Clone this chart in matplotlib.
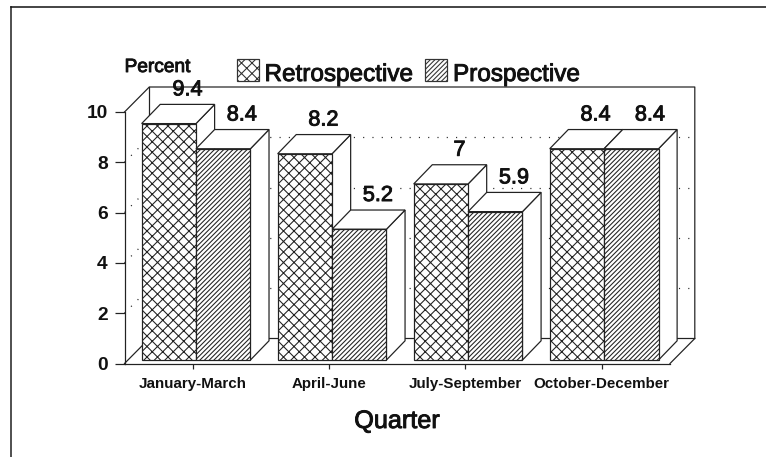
import matplotlib
matplotlib.use("Agg")
import matplotlib.pyplot as plt
from matplotlib.patches import Polygon, Rectangle
import matplotlib.patheffects as pe

categories = ["January-March", "April-June", "July-September", "October-December"]
retrospective = [9.4, 8.2, 7, 8.4]
prospective = [8.4, 5.2, 5.9, 8.4]
value_labels_r = ["9.4", "8.2", "7", "8.4"]
value_labels_p = ["8.4", "5.2", "5.9", "8.4"]
y_ticks = [0, 2, 4, 6, 8, 10]
series_names = ["Retrospective", "Prospective"]
x_title = "Quarter"
y_title = "Percent"

W, H, DPI = 766, 457, 126
S = 110 / DPI  # point sizes were tuned at 110 dpi
plt.rcParams["font.family"] = ["Liberation Sans", "DejaVu Sans"]
plt.rcParams["hatch.linewidth"] = 0.7 * S
plt.rcParams["hatch.color"] = "#111111"
cross_hatch = "xxxx"
diag_hatch = "/" * 9

fig = plt.figure(figsize=(W / DPI, H / DPI), dpi=DPI)
fig.patch.set_facecolor("white")

lc = "#222222"
lw = 0.8 * S
fig.add_artist(plt.Line2D([10.8 / W, 10.8 / W], [0, 1 - 6.5 / H], color="#333333", lw=1.1 * S))
fig.add_artist(plt.Line2D([10.8 / W, 1], [1 - 6.5 / H, 1 - 6.5 / H], color="#111111", lw=1.0 * S))

L, R, T, B = 124.5, 670.0, 112.0, 363.5
ax = fig.add_axes([L / W, 1 - B / H, (R - L) / W, (B - T) / H])
ax.set_xlim(0, 4)
ax.set_ylim(0, 10)
ax.patch.set_alpha(0)
for s in ["top", "right"]:
    ax.spines[s].set_visible(False)
for s in ["left", "bottom"]:
    ax.spines[s].set_linewidth(lw)
    ax.spines[s].set_color(lc)

ux = 4 / (R - L)
uy = 10 / (B - T)
wall_dx, wall_dy = 24.8 * ux, 25 * uy
bar_dx, bar_dy = 18.6 * ux, 19.2 * uy
base = 3.5 * uy
bw = 54.4 * ux
shift = 0.0244
step = 0.9975


def line(xs, ys):
    ax.plot(xs, ys, clip_on=False, color=lc, lw=lw, solid_capstyle="projecting", zorder=1)


line([0, wall_dx, 4 + wall_dx, 4 + wall_dx, 4], [10, 10 + wall_dy, 10 + wall_dy, wall_dy, 0])
line([wall_dx, wall_dx], [wall_dy, 10 + wall_dy])
line([0, wall_dx, 4 + wall_dx], [0, wall_dy, wall_dy])

dot = dict(color="#222222", lw=0.8 * S, linestyle=(0, (0.9, 6.7)))
for v in y_ticks[1:-1]:
    ax.plot([0, wall_dx], [v, v + wall_dy], clip_on=False, zorder=1, **dot)
    ax.plot([wall_dx, 4 + wall_dx], [v + wall_dy, v + wall_dy], clip_on=False, zorder=1, **dot)


def bar(x, v, hatch, z):
    ed = "#222222"
    side = [(x + bw, base), (x + bw + bar_dx, base + bar_dy),
            (x + bw + bar_dx, base + v + bar_dy), (x + bw, base + v)]
    top = [(x, base + v), (x + bar_dx, base + v + bar_dy),
           (x + bw + bar_dx, base + v + bar_dy), (x + bw, base + v)]
    for pts in (side, top):
        ax.add_patch(Polygon(pts, closed=True, fc="white", ec=ed, lw=lw, zorder=z, clip_on=False))
    ax.add_patch(Rectangle((x, base), bw, v, fc="white", ec=ed, lw=lw, hatch=hatch, zorder=z, clip_on=False))


stroke = [pe.withStroke(linewidth=0.6 * S, foreground="#111111")]
label_font = dict(ha="center", va="bottom", fontsize=14.2 * S, color="#111111", clip_on=False,
                  zorder=10, path_effects=stroke)
for i in range(len(categories)):
    x_mid = i * step + 0.5 + shift
    bar(x_mid - bw, retrospective[i], cross_hatch, 3 + i * 2)
    bar(x_mid, prospective[i], diag_hatch, 4 + i * 2)
    for xb, v, s in ((x_mid - bw, retrospective[i], value_labels_r[i]),
                     (x_mid, prospective[i], value_labels_p[i])):
        ax.text(xb + bw / 2 + bar_dx, base + v + bar_dy + 4 * uy, s, **label_font)

ax.set_yticks(y_ticks)
ax.set_xticks([i + 0.5 for i in range(len(categories))])
ax.set_xticklabels(categories, fontsize=9.9 * S, fontweight="bold")
ax.set_yticklabels([str(v) for v in y_ticks], fontsize=12.5 * S, fontweight="bold")
ax.tick_params(axis="y", length=6.5 * S, width=lw, color=lc, pad=4.5 * S)
ax.tick_params(axis="x", length=3 * S, width=lw, color=lc, pad=6 * S)
for t in ax.get_xticklabels() + ax.get_yticklabels():
    t.set_color("#111111")
ax.set_axisbelow(False)

fig.text(397 / W, 1 - 421 / H, x_title, ha="center", va="center", fontsize=16.5 * S,
         color="#111111", path_effects=stroke)
fig.text(157.5 / W, 1 - 67.5 / H, y_title, ha="center", va="center", fontsize=12.5 * S,
         color="#111111", path_effects=stroke)

leg = fig.add_axes([0, 0, 1, 1])
leg.set_xlim(0, W)
leg.set_ylim(H, 0)
leg.axis("off")
leg.patch.set_alpha(0)
for box_x, hatch, txt_x, name in ((237, cross_hatch, 264.5, series_names[0]),
                                  (424.5, diag_hatch, 453, series_names[1])):
    leg.add_patch(Rectangle((box_x, 59), 22, 22, fc="white", ec="#333333", lw=lw, hatch=hatch))
    leg.text(txt_x, 75, name, ha="left", va="center", fontsize=15.9 * S, color="#111111",
             path_effects=stroke)

fig.savefig("out.png", dpi=DPI)
